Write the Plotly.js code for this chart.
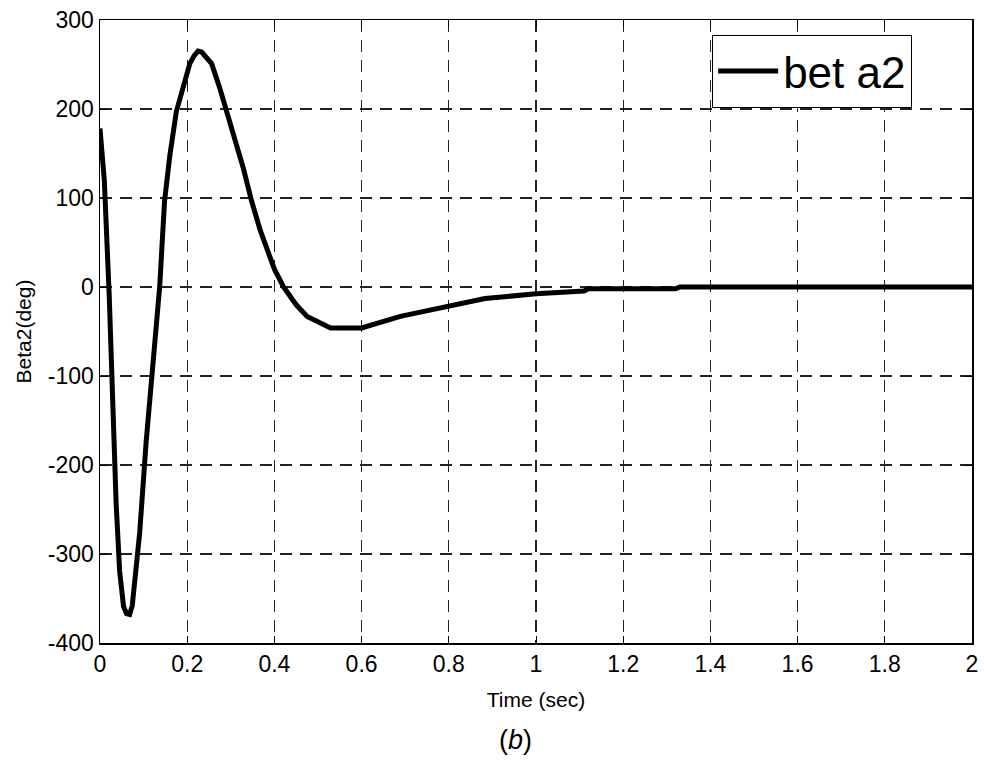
<!DOCTYPE html>
<html>
<head>
<meta charset="utf-8">
<script src="https://cdn.plot.ly/plotly-3.0.1.min.js"></script>
<style>html,body{margin:0;padding:0;background:#fff;}#chart{width:984px;height:769px;}</style>
</head>
<body>
<div id="chart"></div>
<script>
var time = [0, 0.01, 0.021, 0.029, 0.037, 0.045, 0.054, 0.061, 0.068, 0.074, 0.079, 0.091, 0.106, 0.122, 0.137, 0.148, 0.16, 0.175, 0.191, 0.206, 0.216, 0.225, 0.233, 0.241, 0.256, 0.275, 0.295, 0.314, 0.329, 0.348, 0.368, 0.4, 0.421, 0.45, 0.475, 0.529, 0.6, 0.689, 0.8, 0.883, 1.0, 1.11, 1.12, 1.32, 1.33, 2.0];
var beta2 = [178, 119, -8, -149, -243, -319, -359, -367, -368, -358, -337, -276, -173, -88, 1, 96, 147, 197, 227, 251, 260, 265, 264, 260, 251, 223, 190, 157, 133, 96, 63, 20, 0, -20, -33, -46, -46, -33, -21, -13, -7.5, -4.5, -2, -2, 0, 0];
var xTicks = [0, 0.2, 0.4, 0.6, 0.8, 1, 1.2, 1.4, 1.6, 1.8, 2];
var xTickLabels = ["0", "0.2", "0.4", "0.6", "0.8", "1", "1.2", "1.4", "1.6", "1.8", "2"];
var yTicks = [-400, -300, -200, -100, 0, 100, 200, 300];
var yTickLabels = ["-400", "-300", "-200", "-100", "0", "100", "200", "300"];

var fontFam = "Liberation Sans, Arial, sans-serif";

var trace = {
  x: time, y: beta2, type: 'scatter', mode: 'lines', name: 'bet a2',
  line: {color: '#000', width: 5}
};
var layout = {
  width: 984, height: 769,
  margin: {l: 100, r: 12, t: 20, b: 126},
  paper_bgcolor: '#fff', plot_bgcolor: '#fff',
  font: {family: fontFam, color: '#000', size: 20},
  xaxis: {
    range: [0, 2], tickvals: xTicks, ticktext: xTickLabels,
    showgrid: true, gridcolor: '#222', griddash: '12px,8px', gridwidth: 1.2,
    showline: true, linecolor: '#000', linewidth: 1.5, mirror: 'ticks',
    ticks: 'inside', ticklen: 7, tickcolor: '#000', zeroline: false,
    tickfont: {size: 23, family: fontFam},
    title: {text: 'Time (sec)', font: {size: 21, family: fontFam}, standoff: 16}
  },
  yaxis: {
    range: [-400, 300], tickvals: yTicks, ticktext: yTickLabels,
    showgrid: true, gridcolor: '#222', griddash: '12px,8px', gridwidth: 1.2,
    showline: true, linecolor: '#000', linewidth: 1.5, mirror: 'ticks',
    ticks: 'inside', ticklen: 7, tickcolor: '#000', zeroline: false,
    tickfont: {size: 23, family: fontFam},
    title: {text: 'Beta2(deg)', font: {size: 21, family: fontFam}, standoff: 10}
  },
  showlegend: true,
  legend: {
    x: 0.702, y: 0.976, xanchor: 'left', yanchor: 'top',
    bgcolor: '#fff', bordercolor: '#000', borderwidth: 1,
    font: {size: 44, family: fontFam, color: '#000'},
    itemwidth: 60
  },
  annotations: [{
    xref: 'paper', yref: 'paper', x: 0.477, y: -0.156, xanchor: 'center', yanchor: 'middle',
    text: '(<i>b</i>)', showarrow: false, font: {size: 27, family: fontFam}
  }]
};
Plotly.newPlot('chart', [trace], layout, {displayModeBar: false, staticPlot: true});
</script>
</body>
</html>
